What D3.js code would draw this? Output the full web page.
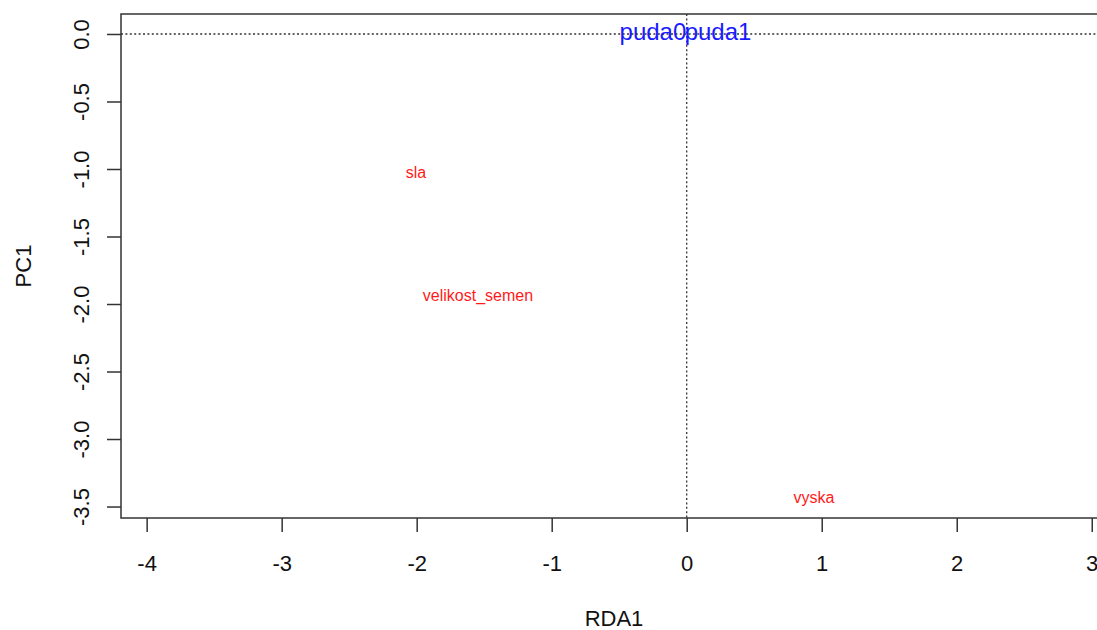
<!DOCTYPE html>
<html>
<head>
<meta charset="utf-8">
<script src="https://cdn.jsdelivr.net/npm/d3@7"></script>
<style>
  body { margin: 0; background: #fff; }
  text { font-family: "Liberation Sans", Arial, sans-serif; }
</style>
</head>
<body>
<div id="chart"></div>
<script>
const width = 1097;
const height = 630;

// plot box (right side runs past the window, like the reference)
const plotLeft = 121;
const plotTop = 14;
const plotBottom = 518;
const plotRight = 1107;

// species scores (red labels)
const speciesNames = ["sla", "velikost_semen", "vyska"];
const speciesX = [-2.005, -1.546, 0.942];
const speciesY = [-1.025, -1.936, -3.433];

// factor centroids (blue labels)
const centroidNames = ["puda0", "puda1"];
const centroidX = [-0.25, 0.232];
const centroidY = [0.015, 0.015];

const xTicks = [-4, -3, -2, -1, 0, 1, 2, 3];
const yTicks = [0, -0.5, -1, -1.5, -2, -2.5, -3, -3.5];
const yTickLabels = ["0.0", "-0.5", "-1.0", "-1.5", "-2.0", "-2.5", "-3.0", "-3.5"];

const xDomain = [-4.19, 3.113];
const yDomain = [-3.585, 0.148];

const lineColor = "#333";

function main() {
  const svg = d3.select("#chart")
    .append("svg")
    .attr("width", width)
    .attr("height", height);

  const x = d3.scaleLinear().domain(xDomain).range([plotLeft, plotRight]);
  const y = d3.scaleLinear().domain(yDomain).range([plotBottom, plotTop]);

  // dotted zero lines
  svg.append("line")
    .attr("x1", plotLeft).attr("x2", plotRight)
    .attr("y1", y(0)).attr("y2", y(0))
    .attr("stroke", lineColor)
    .attr("stroke-width", 1.3)
    .attr("stroke-dasharray", "2,2.4");
  svg.append("line")
    .attr("x1", x(0)).attr("x2", x(0))
    .attr("y1", plotTop).attr("y2", plotBottom)
    .attr("stroke", lineColor)
    .attr("stroke-width", 1.3)
    .attr("stroke-dasharray", "2,2.4");

  // species labels
  svg.append("g")
    .selectAll("text")
    .data(speciesNames)
    .join("text")
    .attr("x", (d, i) => x(speciesX[i]))
    .attr("y", (d, i) => y(speciesY[i]))
    .attr("dy", "0.35em")
    .attr("text-anchor", "middle")
    .attr("font-size", 16)
    .attr("fill", "#ff1a1a")
    .text(d => d);

  // centroid labels
  svg.append("g")
    .selectAll("text")
    .data(centroidNames)
    .join("text")
    .attr("x", (d, i) => x(centroidX[i]))
    .attr("y", (d, i) => y(centroidY[i]))
    .attr("dy", "0.35em")
    .attr("text-anchor", "middle")
    .attr("font-size", 24)
    .attr("fill", "#1a1aff")
    .text(d => d);

  // x axis, plain hyphen for the minus like R does
  const xAxis = svg.append("g")
    .attr("transform", `translate(0, ${plotBottom})`)
    .call(d3.axisBottom(x).tickValues(xTicks).tickSize(14).tickFormat(d => String(d)));
  xAxis.select(".domain").remove();
  xAxis.selectAll("line").attr("stroke", lineColor).attr("stroke-width", 1.5);
  xAxis.selectAll("text")
    .attr("font-size", 22)
    .attr("fill", "#111")
    .attr("dy", null)
    .attr("y", 53);

  // y axis with rotated labels
  const yAxis = svg.append("g")
    .attr("transform", `translate(${plotLeft}, 0)`)
    .call(d3.axisLeft(y).tickValues(yTicks).tickSize(14).tickFormat((d, i) => yTickLabels[i]));
  yAxis.select(".domain").remove();
  yAxis.selectAll("line").attr("stroke", lineColor).attr("stroke-width", 1.5);
  yAxis.selectAll("text")
    .attr("font-size", 22)
    .attr("fill", "#111")
    .attr("x", null)
    .attr("dy", null)
    .attr("text-anchor", "middle")
    .attr("transform", "translate(-32, 0) rotate(-90)");

  // plot frame
  svg.append("rect")
    .attr("x", plotLeft)
    .attr("y", plotTop)
    .attr("width", plotRight - plotLeft)
    .attr("height", plotBottom - plotTop)
    .attr("fill", "none")
    .attr("stroke", lineColor)
    .attr("stroke-width", 1.5);

  // axis titles
  svg.append("text")
    .attr("x", (plotLeft + plotRight) / 2)
    .attr("y", 626)
    .attr("text-anchor", "middle")
    .attr("font-size", 22)
    .attr("fill", "#111")
    .text("RDA1");

  svg.append("text")
    .attr("transform", `translate(31, ${(plotTop + plotBottom) / 2}) rotate(-90)`)
    .attr("text-anchor", "middle")
    .attr("font-size", 22)
    .attr("fill", "#111")
    .text("PC1");
}

main();
</script>
</body>
</html>
